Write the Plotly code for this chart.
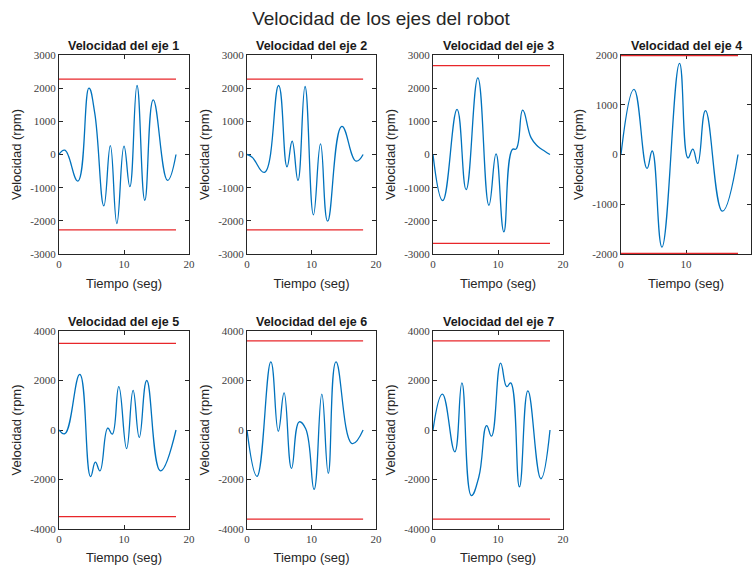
import plotly.graph_objects as go

# ---------------- data ----------------
titles = ["Velocidad del eje 1", "Velocidad del eje 2", "Velocidad del eje 3",
          "Velocidad del eje 4", "Velocidad del eje 5", "Velocidad del eje 6",
          "Velocidad del eje 7"]

t1 = [0, 0.9, 2.9, 4.6, 5.5, 6.9, 7.9, 8.9, 10.0, 10.9, 12.0, 13.2, 14.5, 16.7, 18]
v1 = [0, 130, -800, 2000, 1250, -1550, 270, -2080, 250, -970, 2080, -1380, 1650, -780, 0]

t2 = [0, 0.8, 2.7, 4.9, 6.2, 7.0, 7.9, 9.0, 10.3, 11.4, 12.5, 14.7, 16.9, 18]
v2 = [0, -80, -540, 2080, -370, 400, -780, 2050, -1820, 320, -2010, 850, -200, 0]

t3 = [0, 1.5, 3.7, 5.1, 6.9, 8.6, 9.7, 10.9, 12.2, 12.8, 13.8, 15.1, 16.1, 17.2, 18]
v3 = [0, -1390, 1360, -1060, 2310, -1530, 20, -2330, 150, 170, 1340, 500, 250, 100, 0]

t4 = [0, 2.0, 4.0, 4.8, 6.3, 9.0, 10.3, 11.05, 11.8, 13.0, 15.6, 18]
v4 = [0, 1310, -280, 70, -1860, 1830, -70, 110, -180, 880, -1140, 0]

t5 = [0, 0.9, 3.2, 4.85, 5.6, 6.3, 7.5, 8.2, 9.2, 10.4, 11.4, 12.35, 13.5, 15.6, 18]
v5 = [0, -150, 2250, -1880, -1300, -1650, 80, -170, 1750, -750, 1600, -300, 2000, -1650, 0]

t6 = [0, 1.55, 3.7, 4.85, 5.75, 6.9, 8.1, 9.1, 10.4, 11.6, 12.6, 13.8, 16.3, 18]
v6 = [0, -1870, 2750, -50, 1500, -1550, 330, 50, -2400, 1450, -1750, 2750, -550, 0]

t7 = [0, 1.45, 3.35, 4.45, 5.9, 7.05, 8.25, 9.0, 10.4, 11.35, 11.95, 13.3, 14.6, 16.6, 18]
v7 = [0, 1450, -880, 1900, -2650, -1900, 180, -250, 2700, 1750, 1900, -2300, 1580, -1970, 0]

times = [t1, t2, t3, t4, t5, t6, t7]
speeds = [v1, v2, v3, v4, v5, v6, v7]

limits = [2270, 2270, 2680, 1990, 3500, 3600, 3600]
limit_t = [0, 18]

y_ranges = [3000, 3000, 3000, 2000, 4000, 4000, 4000]
y_steps = [1000, 1000, 1000, 1000, 2000, 2000, 2000]
x_ticks = [0, 10, 20]

# ---------------- layout geometry ----------------
W, H = 752, 565
col_px = [(59, 189), (247, 376), (433, 563), (621, 751)]
row_px = [(55, 254), (331, 529)]

fig = go.Figure()

blue = "#0072BD"
red = "#E8262A"
axcol = "#262626"

annotations = []
for i in range(7):
    r, c = divmod(i, 4)
    n = i + 1
    xd = [col_px[c][0] / W, col_px[c][1] / W]
    yd = [1 - row_px[r][1] / H, 1 - row_px[r][0] / H]
    xa = "x" if n == 1 else f"x{n}"
    ya = "y" if n == 1 else f"y{n}"

    fig.add_trace(go.Scatter(x=limit_t, y=[limits[i], limits[i]], mode="lines",
                             line=dict(color=red, width=1.3), xaxis=xa, yaxis=ya,
                             showlegend=False, hoverinfo="skip", cliponaxis=False))
    fig.add_trace(go.Scatter(x=limit_t, y=[-limits[i], -limits[i]], mode="lines",
                             line=dict(color=red, width=1.3), xaxis=xa, yaxis=ya,
                             showlegend=False, hoverinfo="skip", cliponaxis=False))
    fig.add_trace(go.Scatter(x=times[i], y=speeds[i], mode="lines",
                             line=dict(color=blue, width=1.3, shape="spline", smoothing=1.3),
                             xaxis=xa, yaxis=ya, showlegend=False))

    yr = y_ranges[i]
    ytv = list(range(-yr, yr + 1, y_steps[i]))
    common = dict(showline=True, mirror="ticks", linecolor=axcol, linewidth=1,
                  ticks="inside", ticklen=4, tickcolor=axcol, showgrid=False,
                  zeroline=False, automargin=False, layer="below traces",
                  tickfont=dict(family="Liberation Serif", size=11, color="#404040"))
    xkey = "xaxis" if n == 1 else f"xaxis{n}"
    ykey = "yaxis" if n == 1 else f"yaxis{n}"
    fig.update_layout({
        xkey: dict(domain=xd, anchor=ya, range=[0, 20], tickvals=x_ticks,
                   ticktext=[str(v) for v in x_ticks],
                   title=dict(text="Tiempo (seg)", standoff=9,
                              font=dict(family="Liberation Sans", size=13, color="#262626")),
                   **common),
        ykey: dict(domain=yd, anchor=xa, range=[-yr, yr], tickvals=ytv,
                   ticktext=[str(v) for v in ytv],
                   title=dict(text="Velocidad (rpm)", standoff=5,
                              font=dict(family="Liberation Sans", size=13, color="#262626")),
                   **common),
    })
    annotations.append(dict(text="<b>" + titles[i] + "</b>", x=(xd[0] + xd[1]) / 2, y=yd[1],
                            xref="paper", yref="paper", xanchor="center", yanchor="bottom",
                            yshift=0, showarrow=False,
                            font=dict(family="Liberation Sans", size=12.5, color="#1a1a1a")))

fig.update_layout(
    width=W, height=H,
    margin=dict(l=0, r=0, t=0, b=0),
    paper_bgcolor="white", plot_bgcolor="white",
    annotations=annotations,
    title=dict(text="Velocidad de los ejes del robot", x=381 / W, xanchor="center",
               y=1 - 18 / H, yanchor="middle",
               font=dict(family="Liberation Sans", size=19, color="#262626")),
    showlegend=False,
)

fig.write_html("out.html")
